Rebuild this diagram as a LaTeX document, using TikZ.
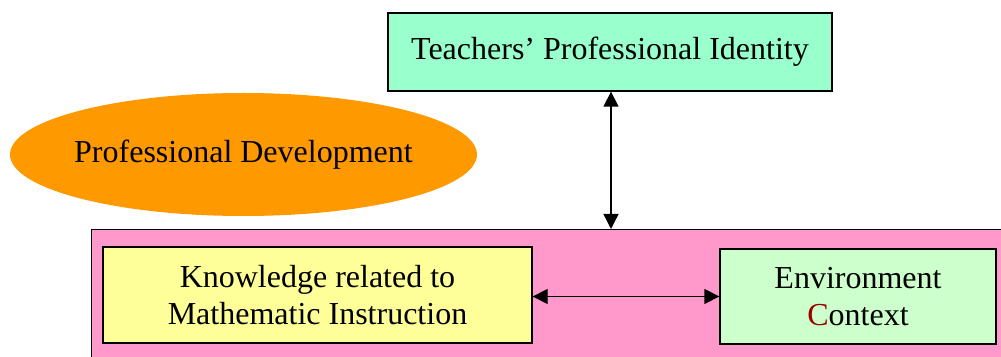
\documentclass[tikz,border=0pt]{standalone}
\usepackage{fontspec}
\setmainfont{Liberation Serif}
\usetikzlibrary{arrows.meta,shapes.geometric}
\definecolor{idgreen}{HTML}{99FFCC}
\definecolor{pdorange}{HTML}{FF9900}
\definecolor{ctxpink}{HTML}{FF99CC}
\definecolor{knowyellow}{HTML}{FFFF99}
\definecolor{envgreen}{HTML}{CCFFCC}
\definecolor{capred}{HTML}{990000}
\tikzset{
  label font/.style={font=\fontsize{32}{37}\selectfont},
  box/.style={draw=black, line width=1.3pt, rectangle, inner sep=0pt, align=center, label font},
  link/.style={line width=1.3pt, {Triangle[length=15pt,width=15pt]}-{Triangle[length=15pt,width=15pt]}}
}
\begin{document}
\begin{tikzpicture}[x=1pt,y=1pt]
\useasboundingbox (0,0) rectangle (1001,356);
\clip (0,0) rectangle (1001,356);
% outer context area (runs off the right and bottom edges)
\node[box, fill=ctxpink, minimum width=920pt, minimum height=140pt, anchor=north west] (ctx) at (91,127) {};
% identity box
\node[box, fill=idgreen, minimum width=444pt, minimum height=78pt] (ident) at (610,304) {Teachers’ Professional Identity};
% professional development ellipse (its size is fixed, the label is not allowed to stretch it)
\node[ellipse, fill=pdorange, minimum width=467pt, minimum height=123pt, inner sep=0pt, label font] (pd) at (243.5,201.5) {\makebox[0pt]{Professional Development}};
% knowledge box
\node[box, fill=knowyellow, minimum width=429pt, minimum height=96pt] (know) at (317.5,61) {Knowledge related to\\Mathematic Instruction};
% environment box
\node[box, fill=envgreen, minimum width=276pt, minimum height=95pt] (env) at (858,59.5) {Environment\\{\color{capred}C}ontext};
% connectors
\draw[link] (ident.south -| 611,0) -- (ctx.north -| 611,0);
\draw[link] (know.east |- env.west) -- (env.west);
\end{tikzpicture}
\end{document}
